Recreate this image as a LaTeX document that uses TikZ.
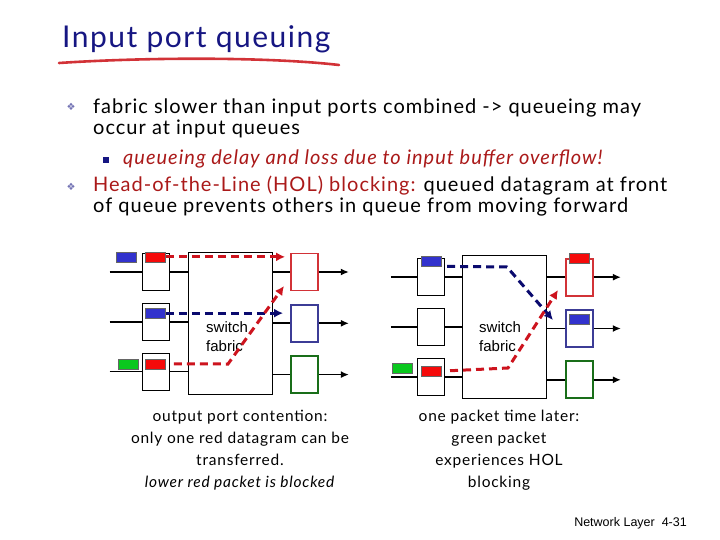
\documentclass[tikz,border=0pt]{standalone}
\usepackage{fontspec}
\setmainfont{Lato}[LetterSpace=5]
\newfontfamily\arialfont{Liberation Sans}
\newfontfamily\symfont{DejaVu Sans}
\usetikzlibrary{arrows.meta,positioning}
\definecolor{navy}{RGB}{22,22,130}
\definecolor{darkred}{RGB}{170,25,25}
\definecolor{pktred}{RGB}{245,10,10}
\definecolor{pktblue}{RGB}{50,50,205}
\definecolor{pktgreen}{RGB}{10,200,30}
\definecolor{outred}{RGB}{210,50,55}
\definecolor{outblue}{RGB}{60,60,150}
\definecolor{outgreen}{RGB}{25,110,25}
\definecolor{flowred}{RGB}{205,20,30}
\definecolor{flowblue}{RGB}{10,10,110}
\tikzset{
  port/.style={draw=black,fill=white,line width=0.8pt,minimum width=27pt,
               minimum height=37pt,inner sep=0pt},
  redport/.style={port,draw=outred,line width=1.8pt},
  blueport/.style={port,draw=outblue,line width=1.8pt},
  greenport/.style={port,draw=outgreen,line width=1.8pt},
  fabricbox/.style={draw=black,line width=0.8pt,minimum width=84pt,
                    minimum height=142pt,inner sep=0pt},
  pkt/.style={draw=black!60,line width=0.5pt,minimum width=20pt,
              minimum height=10pt,inner sep=0pt},
  redpkt/.style={pkt,fill=pktred},
  bluepkt/.style={pkt,fill=pktblue},
  greenpkt/.style={pkt,fill=pktgreen},
  link/.style={line width=1.7pt},
  outlink/.style={link,-{Latex[length=8pt,width=7pt]}},
  flow/.style={line width=3pt,dash pattern=on 8pt off 5pt,
               -{Latex[length=9pt,width=9pt]}},
  redflow/.style={flow,draw=flowred},
  blueflow/.style={flow,draw=flowblue},
  fabrictext/.style={font=\arialfont\fontsize{15}{19}\selectfont,align=left,inner sep=0pt},
  bodytext/.style={font=\fontsize{20}{22}\selectfont,anchor=base west,inner sep=0pt},
  caption/.style={font=\fontsize{15.5}{22}\selectfont,align=center,inner sep=0pt}
}
\begin{document}
\begin{tikzpicture}[x=1pt,y=-1pt]
  \useasboundingbox (0,0) rectangle (720,540);

  % title and bullets
  \node[anchor=base west,inner sep=0pt,text=navy,font=\fontsize{30}{30}\selectfont]
    (title) at (62,48) {Input port queuing};
  \draw[draw=outred,line width=2.6pt,line cap=round]
    (59,63) .. controls (150,57) and (270,57) .. (339,65);
  \node[text=navy!60,font=\symfont\fontsize{10}{10}\selectfont] (bulA) at (71,107) {❖};
  \node[bodytext] (lineA1) at (93,114) {fabric slower than input ports combined -> queueing may};
  \node[bodytext] (lineA2) at (93,135) {occur at input queues};
  \node[fill=navy,minimum size=6pt,inner sep=0pt] (bulB) at (106,160) {};
  \node[bodytext,text=darkred,font=\fontsize{20}{22}\selectfont\itshape] (lineB)
    at (123,165) {queueing delay and loss due to input buffer overflow!};
  \node[text=navy!60,font=\symfont\fontsize{10}{10}\selectfont] (bulC) at (71,187) {❖};
  \node[bodytext] (lineC1) at (93,192) {\textcolor{darkred}{Head-of-the-Line (HOL) blocking:} queued datagram at front};
  \node[bodytext] (lineC2) at (93,213) {of queue prevents others in queue from moving forward};

  % left switch: output port contention
  \node[fabricbox] (fabL) at (230,323) {};
  \node[fabrictext,anchor=west] (swL) at (206,337) {switch\\fabric};
  \node[port] (inL1) at (155.5,272) {};
  \node[port,below=12pt of inL1] (inL2) {};
  \node[port,below=12pt of inL2] (inL3) {};
  \node[redport] (outL1) at (304.5,272) {};
  \node[blueport,below=12.5pt of outL1] (outL2) {};
  \node[greenport,below=12.5pt of outL2] (outL3) {};
  \foreach \i in {1,2,3}{
    \coordinate (srcL\i) at ([xshift=-32pt]inL\i.west);
    \coordinate (dstL\i) at ([xshift=30pt]outL\i.east);
    \draw[link] (srcL\i) -- (inL\i.west);
    \draw[link] (inL\i.east) -- (inL\i.east -| fabL.west);
    \draw[link] (fabL.east |- outL\i.west) -- (outL\i.west);
    \draw[outlink] (outL\i.east) -- (dstL\i);
  }
  \node[redpkt,anchor=north] (pktL1) at ([yshift=1.5pt]inL1.north) {};
  \node[bluepkt,left=8.5pt of pktL1] (waitL1) {};
  \node[bluepkt,anchor=north] (pktL2) at ([yshift=-5pt]inL2.north) {};
  \node[redpkt,anchor=north] (pktL3) at ([yshift=-6pt]inL3.north) {};
  \node[greenpkt,left=6.5pt of pktL3] (waitL3) {};
  \coordinate (bendL) at (228,364);
  \coordinate (tipL) at (284,286);
  \draw[redflow,shorten >=5pt] (pktL1.east) -- (pktL1.east -| outL1.west);
  \draw[blueflow,shorten >=7pt] (pktL2.east) -- (pktL2.east -| outL2.west);
  \draw[redflow,shorten <=8pt] (pktL3.east) -- (bendL) -- (tipL);
  \node[caption,anchor=north] (capL) at (240,410)
    {output port contention:\\only one red datagram can be\\transferred.\\\textit{lower red packet is blocked}};

  % right switch: one packet time later
  \node[fabricbox,minimum height=143pt] (fabR) at (504.5,326.7) {};
  \node[fabrictext,anchor=west] (swR) at (479,337) {switch\\fabric};
  \node[port] (inR1) at (430.8,276.7) {};
  \node[port,below=12.5pt of inR1] (inR2) {};
  \node[port,below=12.5pt of inR2] (inR3) {};
  \node[redport] (outR1) at (579.5,277.2) {};
  \node[blueport,below=12.5pt of outR1] (outR2) {};
  \node[greenport,below=12.5pt of outR2] (outR3) {};
  \foreach \i in {1,2,3}{
    \coordinate (srcR\i) at ([xshift=-26pt]inR\i.west);
    \coordinate (dstR\i) at ([xshift=27pt]outR\i.east);
    \draw[link] (srcR\i) -- (inR\i.west);
    \draw[link] (inR\i.east) -- (inR\i.east -| fabR.west);
    \draw[link] (fabR.east |- outR\i.west) -- (outR\i.west);
    \draw[outlink] (outR\i.east) -- (dstR\i);
  }
  \node[bluepkt,anchor=north] (pktR1) at ([yshift=2pt]inR1.north) {};
  \node[redpkt,anchor=north] (pktR3) at ([yshift=-7.5pt]inR3.north) {};
  \node[greenpkt,left=8pt of pktR3,yshift=3pt] (waitR3) {};
  \node[redpkt,anchor=north] (doneR1) at ([yshift=5pt]outR1.north) {};
  \node[bluepkt,anchor=north] (doneR2) at ([yshift=-5pt]outR2.north) {};
  \coordinate (bendR1) at (507,267);
  \coordinate (tipR1) at (553,320);
  \coordinate (bendR3) at (508,368);
  \coordinate (tipR3) at (558,290);
  \draw[blueflow,shorten <=6pt] (pktR1.south east) -- (bendR1) -- (tipR1);
  \draw[redflow,shorten <=9pt] (pktR3.east) -- (bendR3) -- (tipR3);
  \node[caption,anchor=north] (capR) at (499,410)
    {one packet time later:\\green packet\\experiences HOL\\blocking};

  \node[anchor=base east,inner sep=0pt,font=\arialfont\fontsize{12.5}{12.5}\selectfont]
    (footer) at (687,526) {Network Layer\ \ 4-31};
\end{tikzpicture}
\end{document}
